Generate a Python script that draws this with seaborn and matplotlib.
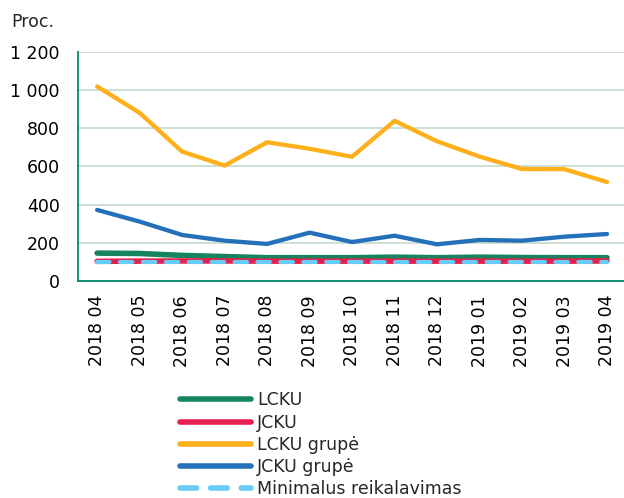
import numpy as np
import pandas as pd
import matplotlib
matplotlib.use("Agg")
import matplotlib.pyplot as plt
from matplotlib.ticker import FuncFormatter
import seaborn as sns

months = ["2018 04", "2018 05", "2018 06", "2018 07", "2018 08", "2018 09", "2018 10",
          "2018 11", "2018 12", "2019 01", "2019 02", "2019 03", "2019 04"]

lcku = [146, 144, 134, 128, 122, 122, 122, 125, 122, 125, 123, 122, 122]
jcku = [103, 104, 105, 105, 104, 104, 104, 104, 104, 104, 104, 104, 105]
lcku_grupe = [1018, 880, 677, 604, 726, 692, 650, 838, 731, 651, 586, 585, 518]
jcku_grupe = [372, 311, 241, 211, 194, 253, 204, 237, 192, 215, 211, 232, 246]
minimum = [100] * 13

series_names = ["LCKU", "JCKU", "LCKU grupė", "JCKU grupė", "Minimalus reikalavimas"]
series_colors = ["#16855F", "#E6204E", "#FDAF1C", "#2471B9", "#67CCF6"]
series_widths = [4.0, 4.0, 3.1, 3.1, 3.0]

sns.set_theme(style="white")
plt.rcParams["font.family"] = ["DejaVu Sans"]
plt.rcParams["font.size"] = 12.5

df = pd.DataFrame({
    "month": months * 5,
    "x": list(range(len(months))) * 5,
    "value": lcku + jcku + lcku_grupe + jcku_grupe + minimum,
    "series": sum([[n] * len(months) for n in series_names], []),
})

fig = plt.figure(figsize=(6.24, 4.98), dpi=100)
ax = fig.add_axes([0.125, 0.4357, 0.875, 0.4606])

for name, color, lw in zip(series_names, series_colors, series_widths):
    sub = df[df["series"] == name]
    dashed = name == "Minimalus reikalavimas"
    sns.lineplot(data=sub, x="x", y="value", ax=ax, color=color, label=name,
                 linewidth=lw, solid_capstyle="round", dash_capstyle="round",
                 dashes=(3, 2.5) if dashed else "", legend=False)

ax.set_xlim(-0.45, 12.4)
ax.set_ylim(0, 1200)
ax.set_yticks(range(0, 1201, 200))
ax.yaxis.set_major_formatter(FuncFormatter(lambda v, p: f"{v:,.0f}".replace(",", " ")))
ax.set_xticks(range(len(months)))
ax.set_xticklabels(months, rotation=90)
ax.tick_params(axis="both", length=0, labelsize=12.5, colors="black")
ax.tick_params(axis="y", pad=13)
ax.tick_params(axis="x", pad=10)
ax.set_xlabel("")
ax.set_ylabel("")

ax.grid(axis="y", color="#C9DDD2", linewidth=1.3)
ax.set_axisbelow(True)
for side in ["top", "right"]:
    ax.spines[side].set_visible(False)
for side in ["left", "bottom"]:
    ax.spines[side].set_color("#00876A")
    ax.spines[side].set_linewidth(1.3)

fig.text(0.018, 1 - 22 / 498, "Proc.", va="center", ha="left", fontsize=12.5)

handles, labels = ax.get_legend_handles_labels()
leg = fig.legend(handles, labels, loc="upper left", bbox_to_anchor=(0.288, 0.214),
                 frameon=False, handlelength=4.1, handletextpad=0.35, labelspacing=0.24,
                 borderaxespad=0, borderpad=0, fontsize=12.5)
for line in leg.get_lines():
    line.set_linewidth(4.0)

fig.savefig("out.png", dpi=100)
